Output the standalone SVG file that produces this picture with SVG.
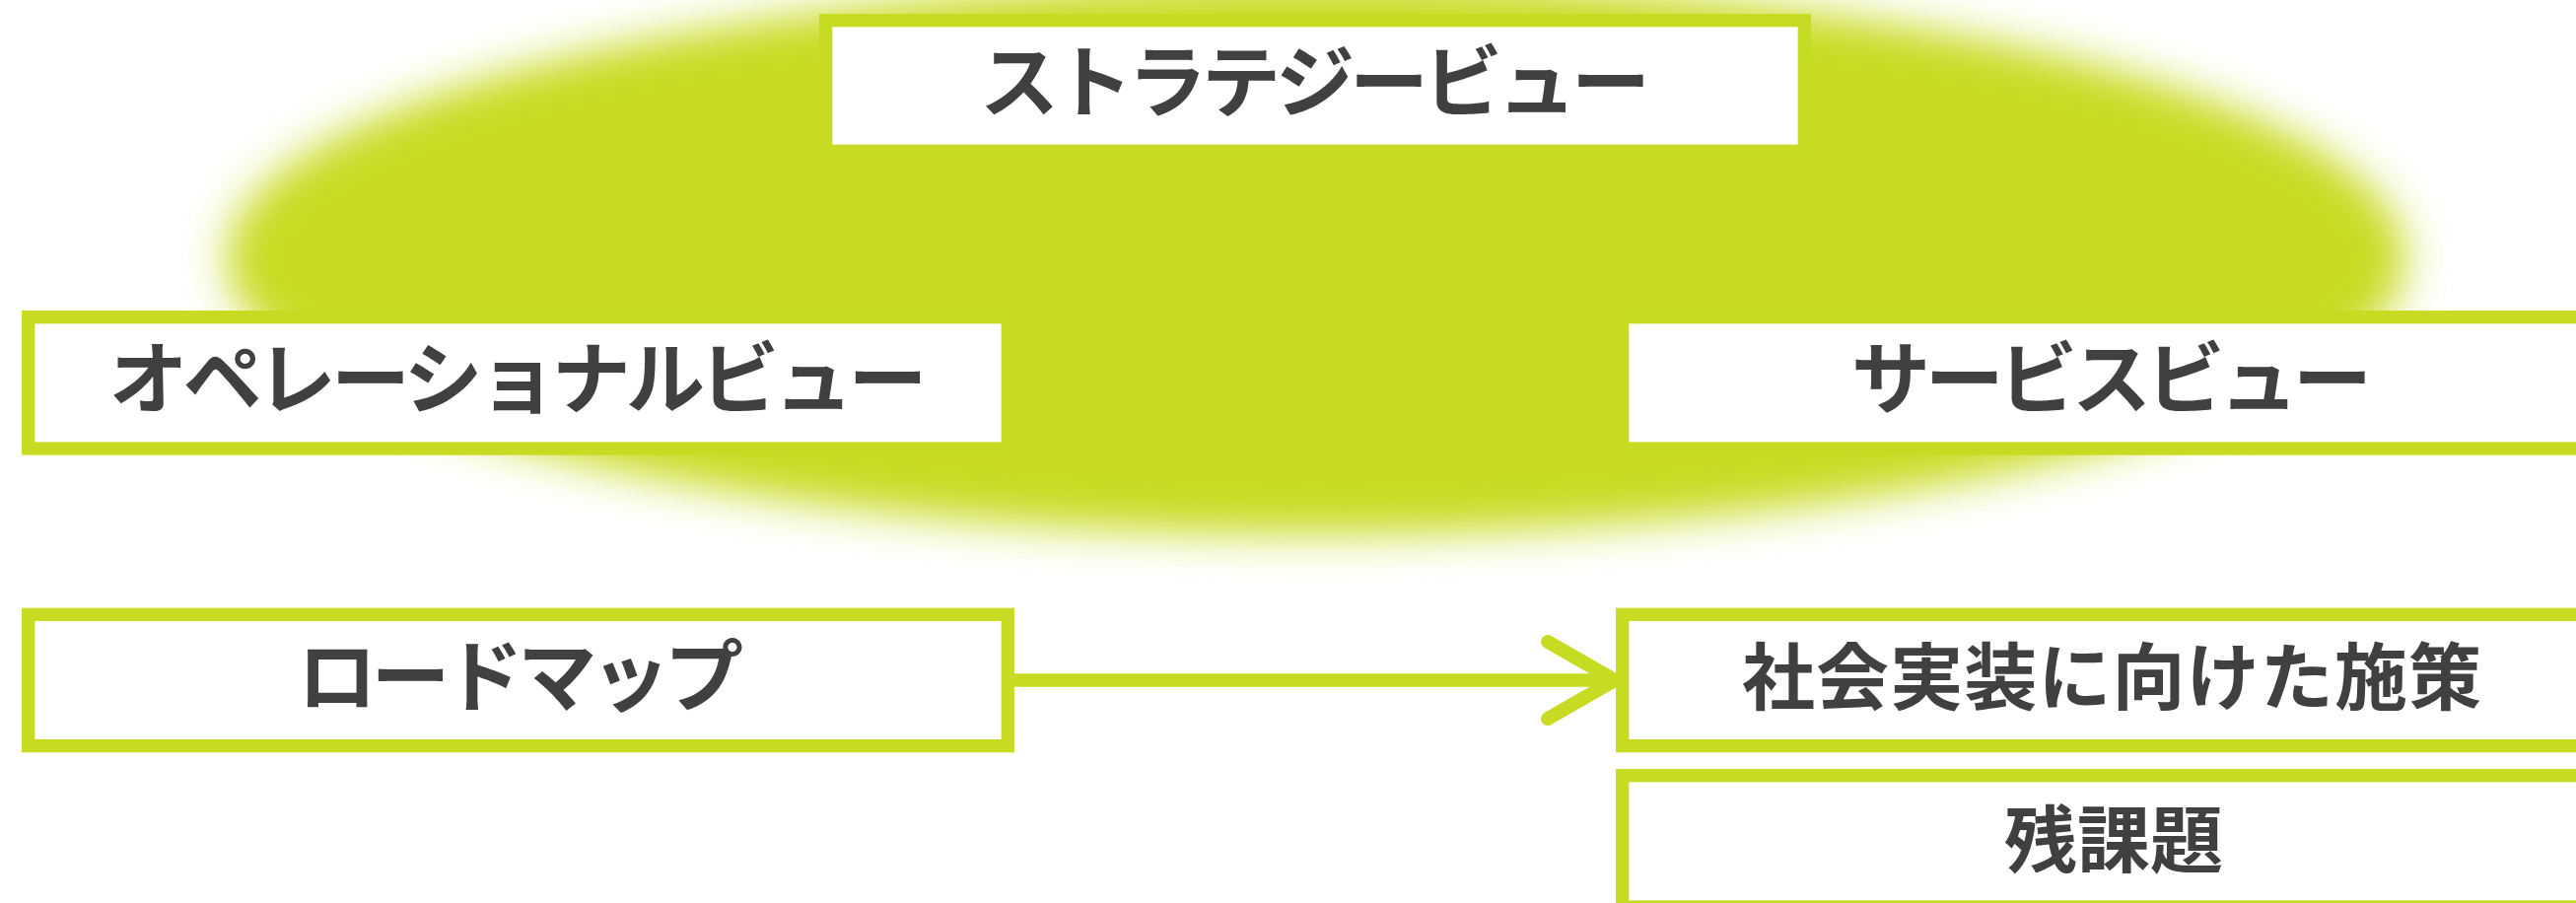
<svg xmlns="http://www.w3.org/2000/svg" width="2613" height="916" viewBox="0 0 2613 916">
  <defs>
    <filter id="blur" x="-10%" y="-30%" width="120%" height="160%">
      <feGaussianBlur stdDeviation="22"/>
    </filter>
    <style>
      .box { fill: #FFFFFF; stroke: #C8DB23; stroke-width: 13.3; }
      .lbl { font-family: "Noto Sans CJK JP", "Noto Sans", sans-serif; font-weight: 700; font-size: 74px; fill: #404040; text-anchor: middle; }
      .kana { font-size: 80px; }
      .conn { stroke: #C8DB23; stroke-width: 13.3; fill: none; }
    </style>
  </defs>
  <rect x="0" y="0" width="2613" height="916" fill="#FFFFFF"/>
  <g id="background">
    <ellipse cx="1335" cy="262" rx="1105" ry="280" fill="#C8DB23" filter="url(#blur)"/>
  </g>
  <g id="connectors">
    <line class="conn" x1="1029" y1="690" x2="1625" y2="690"/>
    <polyline class="conn" points="1570,651 1638,690 1570,729" stroke-linecap="round" stroke-linejoin="miter" style="stroke-width:14"/>
  </g>
  <g id="strategy-view">
    <rect class="box" x="837.7" y="20.7" width="992.6" height="132.6"/>
    <text class="lbl kana" x="1334" y="112" textLength="680" lengthAdjust="spacing">ストラテジービュー</text>
  </g>
  <g id="operational-view">
    <rect class="box" x="28.7" y="321.7" width="993.6" height="133.3"/>
    <text class="lbl kana" x="525.5" y="413" textLength="830" lengthAdjust="spacing">オペレーショナルビュー</text>
  </g>
  <g id="service-view">
    <rect class="box" x="1645.7" y="321.7" width="993.6" height="133.3"/>
    <text class="lbl kana" x="2142" y="413" textLength="528" lengthAdjust="spacing">サービスビュー</text>
  </g>
  <g id="roadmap">
    <rect class="box" x="28.7" y="623.3" width="993.6" height="133.3"/>
    <text class="lbl kana" x="528" y="715" textLength="452" lengthAdjust="spacing">ロードマップ</text>
  </g>
  <g id="measures">
    <rect class="box" x="1645.7" y="623.3" width="993.6" height="133.3"/>
    <text class="lbl" x="2142" y="714" textLength="750" lengthAdjust="spacing">社会実装に向けた施策</text>
  </g>
  <g id="remaining-issues">
    <rect class="box" x="1645.7" y="786.7" width="993.6" height="133.3"/>
    <text class="lbl" x="2144" y="878.5" textLength="222" lengthAdjust="spacing">残課題</text>
  </g>
</svg>
